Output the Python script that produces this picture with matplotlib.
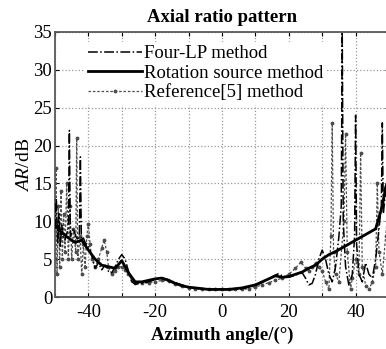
import matplotlib
matplotlib.use("Agg")
import matplotlib.pyplot as plt
import numpy as np

plt.rcParams['font.family'] = ['Liberation Serif', 'DejaVu Serif']
plt.rcParams['mathtext.fontset'] = 'custom'
plt.rcParams['mathtext.rm'] = 'Liberation Serif'
plt.rcParams['mathtext.it'] = 'Liberation Serif:italic'

# Four-LP method (dash-dot)
fl_ang = [-50, -49.6, -49.2, -48.8, -48.4, -48.0, -47.5, -47.0, -46.4, -46.0,
          -45.7, -45.4, -45.0, -44.4, -43.8, -43.0, -42.7, -42.4, -42.1, -41.5,
          -41.0, -40.0, -39.0, -38.0, -37.0, -36.0, -35.0, -34.0, -33.0, -32.0,
          -31.0, -30.0, -29.0, -28.0, -27.0, -26.0, -24.0, -22.0, -20.0, -18.0,
          -16, -14, -12, -10, -8, -6, -4, -2, 0, 2,
          4, 6, 8, 10, 12, 14, 16, 17, 18, 20,
          22, 24, 25, 26, 27, 28, 29, 30, 31, 32,
          33, 34, 35, 35.7, 36, 36.3, 37, 38, 39, 39.7,
          40, 40.3, 41, 42, 43, 44, 45, 46, 47, 47.7,
          48, 48.3, 49, 49.5, 50]
fl_val = [9.0, 13.0, 7.0, 11.0, 6.5, 9.5, 8.0, 7.5, 8.5, 9.0,
          22.0, 8.0, 8.5, 9.0, 8.0, 7.5, 8.5, 18.5, 7.5, 7.8,
          7.2, 6.8, 5.5, 3.8, 4.5, 3.6, 4.2, 3.4, 3.2, 4.0,
          5.0, 5.6, 5.0, 3.4, 2.0, 1.7, 1.8, 2.0, 2.3, 2.5,
          2.3, 1.9, 1.6, 1.3, 1.2, 1.1, 1.0, 1.0, 1.0, 1.0,
          1.0, 1.1, 1.3, 1.5, 1.9, 2.4, 2.9, 3.1, 2.8, 2.6,
          2.9, 3.2, 2.5, 1.6, 1.8, 3.0, 5.0, 6.2, 5.0, 3.0,
          2.0, 4.0, 8.0, 12.0, 35.0, 10.0, 4.0, 1.5, 3.0, 8.0,
          24.0, 7.0, 3.0, 2.0, 4.5, 3.0, 2.5, 5.0, 9.0, 12.0,
          23.0, 11.0, 14.0, 16.0, 15.0]

# Rotation source method (solid)
rs_ang = [-50, -48, -46, -44, -42, -40, -38, -36, -34, -32,
          -30, -28, -26, -24, -22, -20, -18, -16, -14, -12,
          -10, -8, -6, -4, -2, 0, 2, 4, 6, 8,
          10, 12, 14, 16, 18, 20, 22, 24, 26, 28,
          30, 32, 34, 36, 38, 40, 42, 44, 46, 47,
          48, 49, 50]
rs_val = [9.5, 8.5, 7.8, 7.2, 7.5, 6.2, 5.0, 4.2, 4.0, 3.8,
          4.8, 3.2, 2.0, 2.0, 2.2, 2.4, 2.5, 2.2, 1.8, 1.5,
          1.3, 1.2, 1.1, 1.0, 1.0, 1.0, 1.0, 1.1, 1.2, 1.4,
          1.6, 2.0, 2.4, 2.8, 2.6, 2.7, 3.0, 3.3, 3.8, 4.2,
          5.0, 5.6, 6.0, 6.5, 7.0, 7.5, 8.0, 8.5, 9.0, 10.5,
          12.0, 14.5, 15.5]

# Reference[5] method (dashed with dots)
rf_ang = [-50, -49.7, -49.4, -49.0, -48.6, -48.2, -47.8, -47.4, -47.0, -46.5,
          -46.0, -45.5, -45.0, -44.5, -43.8, -43.5, -43.2, -42.5, -42.0, -41.5,
          -41.0, -40.5, -40.0, -39.5, -39.0, -38.0, -37.0, -36.0, -35.3, -34.5,
          -34.0, -33.0, -32.0, -31.0, -30.0, -29.0, -28.0, -27.0, -26.0, -24.0,
          -22, -20, -18, -16, -14, -12, -10, -8, -6, -4,
          -2, 0, 2, 4, 6, 8, 10, 12, 14, 16,
          18, 20, 22, 23.6, 25, 26, 27, 28, 29, 30,
          31, 32, 32.6, 33, 33.4, 34, 35, 36.5, 37, 37.5,
          38.5, 39, 40, 41, 41.5, 42, 43, 44, 45, 46,
          46.5, 47, 48, 49, 50]
rf_val = [5.0, 17.0, 3.0, 12.0, 4.0, 14.0, 5.0, 11.0, 6.0, 15.0,
          5.0, 12.0, 5.0, 9.0, 6.0, 21.0, 5.0, 8.0, 3.0, 7.0,
          4.0, 8.0, 9.7, 7.0, 5.0, 4.0, 5.0, 6.5, 7.5, 6.0,
          4.0, 3.0, 3.5, 4.0, 4.0, 3.6, 3.0, 2.2, 1.9, 1.8,
          1.9, 2.0, 2.2, 2.1, 1.7, 1.4, 1.2, 1.1, 1.0, 1.0,
          1.0, 1.0, 1.0, 1.0, 1.0, 1.1, 1.3, 1.6, 1.9, 2.2,
          2.5, 3.0, 3.8, 4.6, 3.8, 3.5, 4.0, 4.5, 4.0, 3.5,
          2.0, 1.0, 8.0, 23.0, 6.0, 3.0, 2.0, 10.0, 21.5, 6.0,
          1.0, 2.5, 5.0, 3.0, 19.0, 4.0, 1.5, 1.0, 2.0, 4.0,
          15.0, 6.0, 3.0, 8.0, 13.0]

fig = plt.figure(figsize=(3.86, 3.49), dpi=100)
ax = fig.add_axes([55 / 386, 52 / 349, 334 / 386, 265 / 349])

ax.plot(fl_ang, fl_val, color='black', lw=1.1, ls='-.', label='Four-LP method', zorder=3)
ax.plot(rs_ang, rs_val, color='black', lw=2.0, ls='-', label='Rotation source method', zorder=4)
ax.plot(rf_ang, rf_val, color='0.3', lw=0.9, ls=(0, (2, 1.5)), marker='.', markersize=3.5,
        label='Reference[5] method', zorder=2)

ax.set_xlim(-50, 50)
ax.set_ylim(0, 35)
ax.set_xticks(np.arange(-50, 51, 10))
ax.set_xticklabels(['' if t % 20 else str(t) for t in range(-50, 51, 10)])
ax.set_yticks(np.arange(0, 36, 5))
ax.grid(True, color='0.6', ls=':', lw=0.9)
ax.tick_params(direction='in', top=True, right=True, labelsize=13.5, length=3)
ax.tick_params(axis='x', pad=5)
ax.tick_params(axis='y', pad=2)
for s in ax.spines.values():
    s.set_color('0.35')
    s.set_linewidth(1.3)

ax.set_title('Axial ratio pattern', fontsize=13.5, fontweight='bold', pad=7)
ax.set_xlabel('Azimuth angle/(°)', fontsize=13.5, fontweight='bold', labelpad=4)
ax.set_ylabel(r'$\mathit{AR}$/dB', fontsize=14, labelpad=0)

leg = ax.legend(loc='upper left', bbox_to_anchor=(0.07, 0.985), fontsize=13.5, frameon=True,
                facecolor='white', edgecolor='none', framealpha=1, handlelength=2.9,
                handletextpad=0.1, borderpad=0.2, labelspacing=0.12, numpoints=1,
                borderaxespad=0.3)

fig.savefig('out.png', dpi=100)
